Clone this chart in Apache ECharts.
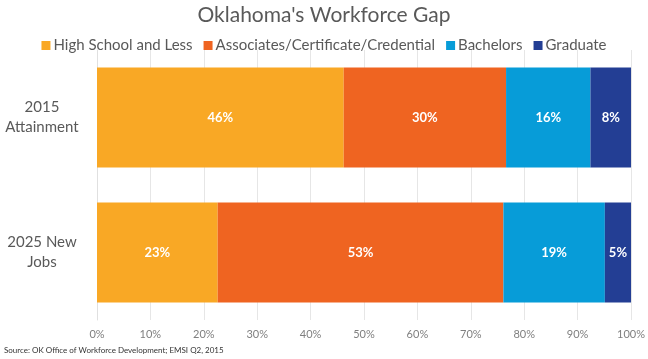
<!DOCTYPE html>
<html><head><meta charset="utf-8">
<script src="https://cdn.jsdelivr.net/npm/echarts@6/dist/echarts.min.js"></script>
<style>html,body{margin:0;padding:0;background:#fff}#c{width:648px;height:359px}</style>
</head><body><div id="c"></div>
<script>
const categories = ['2015\nAttainment', '2025 New\nJobs'];
const seriesNames = ['High School and Less', 'Associates/Certificate/Credential', 'Bachelors', 'Graduate'];
const highSchool = [46.2, 22.6];
const associates = [30.4, 53.5];
const bachelors = [15.8, 19.0];
const graduate = [7.6, 4.9];
const labelsHigh = ['46%', '23%'];
const labelsAssoc = ['30%', '53%'];
const labelsBach = ['16%', '19%'];
const labelsGrad = ['8%', '5%'];
const colors = ['#F9A825', '#EF6421', '#079CD8', '#233E94'];

const font = 'Lato, "Open Sans", sans-serif';
const valuesList = [highSchool, associates, bachelors, graduate];
const labelsList = [labelsHigh, labelsAssoc, labelsBach, labelsGrad];

const chart = echarts.init(document.getElementById('c'), null, {renderer:'canvas'});
chart.setOption({
  animation: false,
  textStyle: {fontFamily: font},
  title: {
    text: "Oklahoma's Workforce Gap",
    left: 'center', top: 0,
    textStyle: {fontFamily: font, fontSize: 21, fontWeight: 'normal', color: '#595959'}
  },
  legend: {
    top: 33, left: 'center',
    itemWidth: 9, itemHeight: 9, itemGap: 11,
    icon: 'rect',
    textStyle: {fontFamily: font, fontSize: 15, color: '#595959', padding: [0,0,0,-2]},
    data: seriesNames
  },
  grid: {left: 97, right: 15, top: 50, bottom: 39, containLabel: false},
  xAxis: {
    type: 'value', min: 0, max: 100, interval: 10,
    axisLabel: {formatter: v => v + '%', color: '#7f7f7f', fontSize: 11, fontFamily: font, margin: 9},
    splitLine: {show: true, lineStyle: {color: '#e6e6e6', width: 1}},
    axisLine: {show: false}, axisTick: {show: false}
  },
  yAxis: {
    type: 'category', inverse: true, data: categories,
    axisLabel: {color: '#595959', fontSize: 15, fontFamily: font, align: 'center', margin: 55, lineHeight: 20},
    axisLine: {show: true, lineStyle: {color: '#e0e0e0'}},
    axisTick: {show: false}
  },
  series: seriesNames.map((n, i) => ({
    name: n, type: 'bar', stack: 'total', barCategoryGap: '26%',
    itemStyle: {color: colors[i]},
    label: {
      show: true, position: 'inside', color: '#fff', fontWeight: 'bold', fontSize: 13, fontFamily: font,
      formatter: p => labelsList[i][p.dataIndex]
    },
    data: valuesList[i]
  })),
  graphic: [{
    type: 'text', left: 4, top: 346,
    style: {text: 'Source: OK Office of Workforce Development; EMSI Q2, 2015', fontSize: 8, fill: '#333', fontFamily: font}
  }]
});
</script></body></html>
